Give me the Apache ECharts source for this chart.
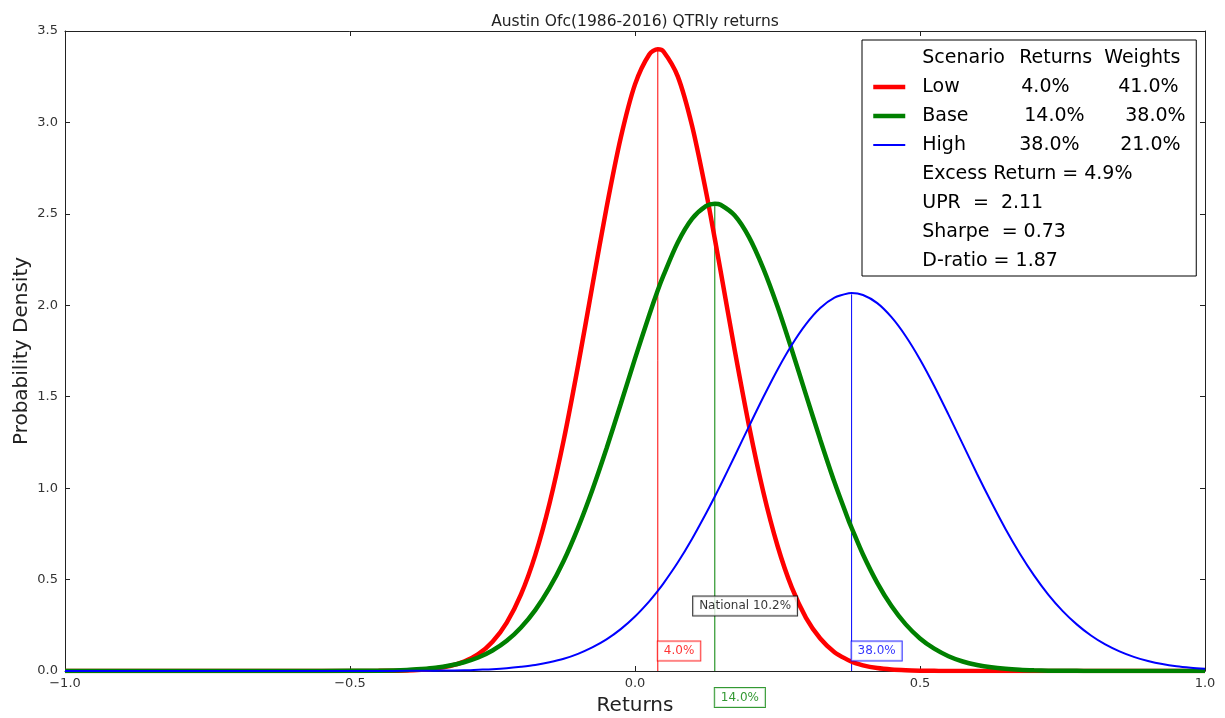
<!DOCTYPE html>
<html>
<head>
<meta charset="utf-8">
<script src="https://cdn.jsdelivr.net/npm/echarts@6/dist/echarts.min.js"></script>
<style>
  html, body { margin: 0; padding: 0; background: #fff; }
  #chart { width: 1225px; height: 718px; }
</style>
</head>
<body>
<div id="chart"></div>
<script>
// returns grid (x)
let xs = [-1.0, -0.9, -0.8, -0.7, -0.6, -0.5, -0.45,
  -0.4, -0.375, -0.35, -0.325, -0.3, -0.275, -0.25, -0.225, -0.2, -0.175, -0.15, -0.125, -0.1, -0.075, -0.05, -0.025,
  0, 0.025, 0.04, 0.05, 0.075, 0.1, 0.125, 0.14, 0.15, 0.175, 0.2, 0.225, 0.25, 0.275, 0.3, 0.325, 0.35, 0.375, 0.38, 0.4, 0.425, 0.45, 0.475,
  0.5, 0.525, 0.55, 0.575, 0.6, 0.625, 0.65, 0.675, 0.7, 0.725, 0.75, 0.775, 0.8, 0.825, 0.85, 0.875, 0.9, 0.925, 0.95, 0.975, 1.0]

// probability density per scenario
let lowDensity = [0, 0, 0, 0, 0, 0, 0.001,
  0.003, 0.007, 0.014, 0.027, 0.051, 0.092, 0.160, 0.265, 0.419, 0.634, 0.916, 1.264, 1.668, 2.103, 2.533, 2.916,
  3.208, 3.372, 3.400, 3.388, 3.252, 2.983, 2.615, 2.364, 2.191, 1.753, 1.341, 0.980, 0.685, 0.457, 0.291, 0.178, 0.103, 0.058, 0.051, 0.031, 0.016, 0.008, 0.004,
  0.002, 0.001, 0, 0, 0, 0, 0, 0, 0, 0, 0, 0, 0, 0, 0, 0, 0, 0, 0, 0, 0]
let baseDensity = [0, 0, 0, 0, 0, 0.001, 0.002,
  0.006, 0.011, 0.018, 0.030, 0.048, 0.074, 0.112, 0.165, 0.238, 0.333, 0.454, 0.603, 0.783, 0.989, 1.217, 1.460,
  1.708, 1.947, 2.082, 2.163, 2.343, 2.472, 2.543, 2.555, 2.550, 2.491, 2.373, 2.202, 1.993, 1.757, 1.510, 1.265, 1.032, 0.821, 0.783, 0.637, 0.482, 0.355, 0.255,
  0.178, 0.122, 0.081, 0.052, 0.033, 0.020, 0.012, 0.007, 0.004, 0.002, 0.001, 0.001, 0, 0, 0, 0, 0, 0, 0, 0, 0]
let highDensity = [0, 0, 0, 0, 0, 0, 0,
  0.001, 0.001, 0.002, 0.003, 0.004, 0.007, 0.010, 0.015, 0.023, 0.033, 0.048, 0.067, 0.094, 0.129, 0.173, 0.229,
  0.298, 0.381, 0.438, 0.479, 0.593, 0.722, 0.864, 0.954, 1.016, 1.176, 1.338, 1.497, 1.648, 1.783, 1.897, 1.985, 2.042, 2.066, 2.067, 2.056, 2.012, 1.935, 1.831,
  1.704, 1.559, 1.402, 1.241, 1.079, 0.924, 0.777, 0.643, 0.523, 0.418, 0.329, 0.255, 0.194, 0.145, 0.107, 0.077, 0.055, 0.038, 0.026, 0.018, 0.012]

let scenarios = ['Low', 'Base', 'High']
let scenarioReturns = [0.04, 0.14, 0.38]
let peakDensity = [3.40, 2.55, 2.06]
let returnsText = ['4.0%', '14.0%', '38.0%']
let weightsText = ['41.0%', '38.0%', '21.0%']
let headerText = ['Scenario', 'Returns', 'Weights']
let statLines = ['Excess Return = 4.9%', 'UPR  =  2.11', 'Sharpe  = 0.73', 'D-ratio = 1.87']

// boxed notes on the plot (text, x, y in data units)
let noteText = ['4.0%', '14.0%', '38.0%', 'National 10.2%']
let noteX = [0.04, 0.14, 0.38, 0.102]
let noteY = [0.11, -0.145, 0.11, 0.355]

let xTicks = [-1.0, -0.5, 0.0, 0.5, 1.0]
let yTicks = [0.0, 0.5, 1.0, 1.5, 2.0, 2.5, 3.0, 3.5]

let colors = ['#ff0000', '#008000', '#0000ff', '#000000']
let lineWidths = [4.5, 4.5, 2]
let font = 'DejaVu Sans'

let elChart = echarts.init(document.getElementById('chart'))

function fmtTick(v) {
  return v.toFixed(1).replace('-', '\u2212')
}

let curves = [lowDensity, baseDensity, highDensity]
let series = []
scenarios.forEach(function (name, i) {
  // thin line from the axis up to the peak at the scenario return
  series.push({
    name: name + ' mean',
    type: 'line',
    data: [[scenarioReturns[i], 0], [scenarioReturns[i], peakDensity[i]]],
    symbol: 'none',
    silent: true,
    color: colors[i],
    lineStyle: { color: colors[i], width: 1 },
    z: 1
  })
})
scenarios.forEach(function (name, i) {
  series.push({
    name: name,
    type: 'line',
    data: xs.map(function (x, k) { return [x, curves[i][k]] }),
    smooth: 0.3,
    symbol: 'none',
    showSymbol: false,
    color: colors[i],
    lineStyle: { color: colors[i], width: lineWidths[i] },
    z: 2
  })
})

// empty series so the header and stat lines show in the legend box
let legendNames = [headerText[0]].concat(scenarios).concat(statLines)
legendNames.forEach(function (n) {
  if (scenarios.indexOf(n) >= 0) return
  series.push({ name: n, type: 'line', data: [], symbol: 'none', color: 'rgba(0,0,0,0)', lineStyle: { color: 'rgba(0,0,0,0)' } })
})
let legendData = legendNames.map(function (n) {
  let i = scenarios.indexOf(n)
  if (i < 0) return { name: n }
  return { name: n, lineStyle: { width: lineWidths[i] } }
})

let noteColors = [colors[0], colors[1], colors[2], colors[3]]
series.push({
  type: 'scatter',
  clip: false,
  silent: true,
  symbolSize: 0,
  itemStyle: { color: 'rgba(0,0,0,0)' },
  z: 5,
  data: noteText.map(function (t, i) {
    return {
      value: [noteX[i], noteY[i]],
      label: {
        show: true,
        position: 'right',
        distance: 0,
        formatter: t,
        color: noteColors[i],
        fontFamily: font,
        fontSize: 12,
        backgroundColor: '#fff',
        borderColor: noteColors[i],
        borderWidth: 1,
        padding: [4, 6, 3, 6]
      }
    }
  })
})

let cell = function (w) { return { width: w, fontSize: 19, fontFamily: font, color: '#000' } }
let rowRich = {
  s: { width: 12 },
  h1: cell(97), h2: cell(85),
  c1: cell(99), c2: cell(97),
  d1: cell(102), d2: cell(101),
  e1: cell(97), e2: cell(101),
  t: cell(70)
}
let rowCols = { Low: ['c1', 'c2'], Base: ['d1', 'd2'], High: ['e1', 'e2'] }

let optionData = {
  animation: false,
  backgroundColor: '#fff',
  title: {
    text: 'Austin Ofc(1986-2016) QTRly returns',
    left: 630,
    top: 9,
    textAlign: 'center',
    textStyle: { fontFamily: font, fontSize: 15.5, fontWeight: 'normal', color: '#222' }
  },
  legend: {
    orient: 'vertical',
    left: 862,
    top: 40,
    padding: [7, 1, 4, 9],
    borderColor: '#000',
    borderWidth: 1,
    backgroundColor: '#fff',
    itemWidth: 32,
    itemHeight: 14,
    itemGap: 7,
    selectedMode: false,
    itemStyle: { opacity: 0 },
    data: legendData,
    textStyle: { fontFamily: font, fontSize: 19, color: '#000', lineHeight: 22, rich: rowRich },
    formatter: function (name) {
      if (name === headerText[0]) {
        return '{s| }{h1|' + headerText[0] + '}{h2|' + headerText[1] + '}{t|' + headerText[2] + '}'
      }
      let i = scenarios.indexOf(name)
      if (i >= 0) {
        let c = rowCols[name]
        return '{s| }{' + c[0] + '|' + name + '}{' + c[1] + '|' + returnsText[i] + '}{t|' + weightsText[i] + '}'
      }
      return '{s| }{t|' + name + '}'
    }
  },
  grid: { left: 65, right: 20, top: 31, bottom: 47, containLabel: false, outerBoundsMode: 'none' },
  xAxis: [
    {
      type: 'value',
      min: xTicks[0],
      max: xTicks[xTicks.length - 1],
      interval: 0.5,
      name: 'Returns',
      nameLocation: 'middle',
      nameGap: 25,
      nameTextStyle: { fontFamily: font, fontSize: 20, color: '#222' },
      axisLine: { show: true, onZero: false, lineStyle: { color: '#222', width: 1 } },
      axisTick: { show: true, inside: true, length: 5, lineStyle: { color: '#222' } },
      splitLine: { show: false },
      axisLabel: { formatter: fmtTick, fontFamily: font, fontSize: 13, color: '#333', margin: 6 }
    },
    {
      type: 'value',
      position: 'top',
      min: xTicks[0],
      max: xTicks[xTicks.length - 1],
      interval: 0.5,
      axisLine: { show: true, onZero: false, lineStyle: { color: '#222', width: 1 } },
      axisTick: { show: true, inside: true, length: 5, lineStyle: { color: '#222' } },
      splitLine: { show: false },
      axisLabel: { show: false }
    }
  ],
  yAxis: [
    {
      type: 'value',
      min: yTicks[0],
      max: yTicks[yTicks.length - 1],
      interval: 0.5,
      name: 'Probability Density',
      nameLocation: 'middle',
      nameGap: 33,
      nameMoveOverlap: false,
      nameTextStyle: { fontFamily: font, fontSize: 20, color: '#222' },
      axisLine: { show: true, onZero: false, lineStyle: { color: '#222', width: 1 } },
      axisTick: { show: true, inside: true, length: 5, lineStyle: { color: '#222' } },
      splitLine: { show: false },
      axisLabel: { formatter: fmtTick, fontFamily: font, fontSize: 13, color: '#333', margin: 7 }
    },
    {
      type: 'value',
      position: 'right',
      min: yTicks[0],
      max: yTicks[yTicks.length - 1],
      interval: 0.5,
      axisLine: { show: true, onZero: false, lineStyle: { color: '#222', width: 1 } },
      axisTick: { show: true, inside: true, length: 5, lineStyle: { color: '#222' } },
      splitLine: { show: false },
      axisLabel: { show: false }
    }
  ],
  series: series
}

elChart.setOption(optionData)
</script>
</body>
</html>
